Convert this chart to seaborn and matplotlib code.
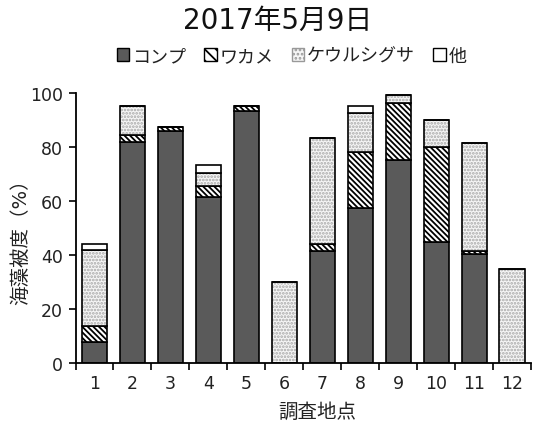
"""Stacked seaweed-cover bar chart for the 2017-05-09 survey."""

import matplotlib

matplotlib.use("Agg")

import matplotlib.pyplot as plt
from matplotlib.patches import Patch
from matplotlib.ticker import FixedLocator
import numpy as np
import seaborn as sns

SITES = [str(i) for i in range(1, 13)]
KOMBU = [7.7, 82.0, 86.0, 61.5, 93.5, 0.0, 41.5, 57.5, 75.3, 45.0, 40.3, 0.0]
WAKAME = [6.0, 2.5, 1.5, 4.0, 1.5, 0.0, 2.5, 20.5, 21.0, 35.0, 1.3, 0.0]
KEURUSHIGUSA = [28.0, 10.5, 0.0, 5.0, 0.0, 30.0, 39.5, 14.5, 3.0, 10.0, 40.0, 35.0]
OTHER = [2.3, 0.0, 0.0, 2.7, 0.0, 0.0, 0.0, 2.5, 0.0, 0.0, 0.0, 0.0]
LABELS = ["コンプ", "ワカメ", "ケウルシグサ", "他"]
TITLE = "2017年5月9日"

KOMBU_COLOR = "#5a5a5a"
DOT_COLOR = "#a8a8a8"
WAKAME_HATCH = "\\" * 6
DOT_HATCH = "....."
BAR_WIDTH = 0.66
EDGE_W = 1.2

sns.set_theme(style="ticks")
plt.rcParams["font.family"] = ["DejaVu Sans", "Noto Sans CJK JP"]
plt.rcParams["hatch.linewidth"] = 1.3

fig = plt.figure(figsize=(5.33, 4.27), dpi=100)
ax = fig.add_axes([0.1417, 0.1475, 0.8545, 0.6324])

kombu = np.array(KOMBU)
wakame = np.array(WAKAME)
keul = np.array(KEURUSHIGUSA)
other = np.array(OTHER)

common = dict(x=SITES, width=BAR_WIDTH, saturation=1, errorbar=None, ax=ax)

sns.barplot(y=kombu, color=KOMBU_COLOR, edgecolor="black", linewidth=EDGE_W, **common)
sns.barplot(y=wakame, bottom=kombu, color="white", edgecolor="black",
            linewidth=EDGE_W, hatch=WAKAME_HATCH, **common)
# dotted fill first (grey dots), then a black outline on top
sns.barplot(y=keul, bottom=kombu + wakame, color="#f6f6f6", edgecolor=DOT_COLOR,
            linewidth=0, hatch=DOT_HATCH, **common)
sns.barplot(y=keul, bottom=kombu + wakame, fill=False, color="black",
            linewidth=EDGE_W, **common)
sns.barplot(y=other, bottom=kombu + wakame + keul, color="white", edgecolor="black",
            linewidth=EDGE_W, **common)

ax.set_xlim(-0.5, 11.5)
ax.set_ylim(0, 100)
ax.set_yticks([0, 20, 40, 60, 80, 100])
ax.xaxis.set_minor_locator(FixedLocator(np.arange(-0.5, 12, 1.0)))
ax.tick_params(axis="x", which="major", length=0, pad=8, labelsize=12.5, colors="#222222")
ax.tick_params(axis="x", which="minor", length=5, width=1.2, color="black", direction="out")
ax.tick_params(axis="y", length=5, width=1.2, color="black", labelsize=12.5,
               labelcolor="#222222", pad=4)
sns.despine(ax=ax)
for side in ("left", "bottom"):
    ax.spines[side].set_linewidth(1.3)
    ax.spines[side].set_color("black")

ax.set_xlabel("調査地点", fontsize=14, color="#222222")
ax.set_ylabel("海藻被度（%）", fontsize=14, color="#222222")
ax.xaxis.set_label_coords(0.53, -0.145)
ax.yaxis.set_label_coords(-0.1, 0.47)

fig.text(0.52, 0.95, TITLE, ha="center", va="center", fontsize=20, color="#111111")

handles = [
    Patch(facecolor=KOMBU_COLOR, edgecolor="black", linewidth=1.0),
    Patch(facecolor="white", edgecolor="black", linewidth=1.0, hatch="\\\\\\"),
    Patch(facecolor="#f6f6f6", edgecolor="#999999", linewidth=1.0, hatch="...."),
    Patch(facecolor="white", edgecolor="black", linewidth=1.0),
]
ax.legend(handles, LABELS, loc="center", bbox_to_anchor=(0.547, 0.8665),
          bbox_transform=fig.transFigure, ncol=4, frameon=False, fontsize=13,
          handlelength=0.7, handleheight=0.7, handletextpad=0.15, columnspacing=1.0,
          labelcolor="#222222")

fig.savefig("out.png", dpi=100)
